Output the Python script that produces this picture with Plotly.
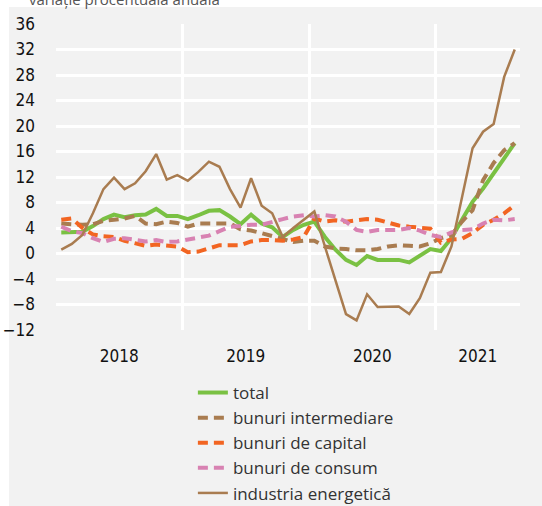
"""
Variatie procentuala anuala - productie industriala pe grupe
"""

import plotly.graph_objs as go

years = ['2018', '2019', '2020', '2021']
months_per_year = [12, 12, 12, 8]

total = [3.3, 3.3, 3.4, 4.3, 5.4, 6.1, 5.7, 6.0, 6.1, 7.0, 5.9, 5.9,
         5.4, 6.0, 6.7, 6.8, 5.8, 4.6, 6.1, 4.7, 4.1, 2.6, 3.7, 4.5,
         5.0, 2.6, 0.6, -1.0, -1.8, -0.4, -1.0, -1.0, -1.0, -1.4, -0.4, 0.7,
         0.4, 2.4, 5.3, 8.1, 10.2, 12.5, 14.9, 17.3]

intermediare = [4.7, 4.6, 4.5, 4.6, 5.1, 5.3, 5.5, 5.9, 4.7, 4.6, 5.0, 4.8,
                4.2, 4.7, 4.7, 4.8, 4.7, 3.8, 3.6, 3.2, 2.7, 2.3, 1.8, 2.0,
                2.0, 1.1, 0.8, 0.7, 0.5, 0.5, 0.7, 1.1, 1.3, 1.2, 1.1, 1.6,
                2.4, 2.9, 5.0, 6.8, 11.5, 14.2, 16.2, 17.3]

capital = [5.3, 5.5, 4.0, 3.0, 2.7, 2.6, 2.0, 1.6, 1.2, 1.4, 1.2, 1.1,
           0.2, 0.3, 0.8, 1.3, 1.3, 1.3, 1.9, 2.1, 2.1, 2.0, 2.2, 2.6,
           5.5, 5.0, 5.2, 5.0, 5.2, 5.4, 5.3, 4.8, 4.4, 4.2, 4.0, 3.9,
           1.7, 2.2, 2.3, 3.2, 4.5, 5.3, 6.3, 7.6]

consum = [4.2, 3.5, 3.2, 2.4, 1.8, 2.3, 2.4, 2.1, 1.9, 2.1, 1.8, 1.9,
          2.2, 2.6, 2.8, 3.5, 4.2, 4.3, 4.5, 4.5, 5.0, 5.4, 5.8, 6.0,
          5.8, 6.0, 5.8, 5.0, 3.7, 3.4, 3.7, 3.7, 3.7, 4.0, 3.6, 2.9,
          2.6, 3.3, 3.7, 3.8, 4.7, 5.3, 5.2, 5.4]

energetica = [0.6, 1.5, 2.9, 6.3, 10.1, 11.9, 10.1, 11.0, 12.9, 15.6, 11.6, 12.3,
              11.4, 12.8, 14.4, 13.6, 10.1, 7.2, 11.8, 7.5, 6.3, 2.6, 4.0, 5.3,
              6.6, 1.1, -4.2, -9.5, -10.5, -6.4, -8.4, -8.3, -8.3, -9.5, -7.0, -3.0,
              -2.9, 1.1, 9.0, 16.5, 19.1, 20.3, 27.7, 32.0]

y_ticks = list(range(-12, 37, 4))

# month index on x, year groups like a category axis
x = list(range(sum(months_per_year)))
bounds = []
centers = []
start = 0
for n in months_per_year:
    centers.append(start + (n - 1) / 2)
    start += n
    bounds.append(start - 0.5)
bounds = bounds[:-1]

BG = '#f2f2f2'

trace1 = go.Scatter(x=x, y=total, name='total', mode='lines',
                    line=dict(color='#7ac143', width=4))
trace2 = go.Scatter(x=x, y=intermediare, name='bunuri intermediare', mode='lines',
                    line=dict(color='#a97c50', width=4, dash='10px,6px'))
trace3 = go.Scatter(x=x, y=capital, name='bunuri de capital', mode='lines',
                    line=dict(color='#f26522', width=4, dash='10px,6px'))
trace4 = go.Scatter(x=x, y=consum, name='bunuri de consum', mode='lines',
                    line=dict(color='#d882b2', width=4, dash='10px,6px'))
trace5 = go.Scatter(x=x, y=energetica, name='industria energetică', mode='lines',
                    line=dict(color='#a97c50', width=2.5))

data = [trace1, trace2, trace3, trace4, trace5]

tick_font = dict(family='DejaVu Sans Condensed, Liberation Sans Narrow, sans-serif',
                 size=17, color='#111111')

layout = go.Layout(
    width=542, height=506,
    margin=dict(l=56, r=22, t=24, b=176, autoexpand=False),
    paper_bgcolor='white',
    plot_bgcolor=BG,
    showlegend=True,
    xaxis=dict(
        range=[-0.5, len(x) - 0.5],
        tickvals=centers, ticktext=years,
        showgrid=False, zeroline=False, showline=False, ticks='',
        ticklabelstandoff=14, automargin=False,
        tickfont=tick_font,
        minor=dict(tickvals=bounds, showgrid=True, gridcolor='white', gridwidth=2.5),
    ),
    yaxis=dict(
        range=[-12, 36],
        tickvals=y_ticks,
        showgrid=True, gridcolor='white', gridwidth=2.5,
        zeroline=False, showline=False, ticks='',
        ticklabelstandoff=20, automargin=False,
        tickfont=tick_font,
    ),
    legend=dict(
        x=0.295, y=-0.147, xanchor='left', yanchor='top',
        bgcolor='rgba(0,0,0,0)',
        font=dict(family='Open Sans, sans-serif', size=17, color='#333333'),
        tracegroupgap=0,
    ),
    shapes=[dict(type='rect', xref='paper', yref='paper', layer='below',
                 x0=(9 - 56) / 464, x1=(542 - 56) / 464,
                 y0=(330 - 506) / 306, y1=(330 - 7) / 306,
                 fillcolor=BG, line=dict(width=0))],
    annotations=[dict(text='variație procentuală anuală', xref='paper', yref='paper',
                      x=(27 - 56) / 464, y=(330 + 1) / 306, xanchor='left', yanchor='middle',
                      showarrow=False,
                      font=dict(family='Open Sans, sans-serif', size=15, color='#555555'))],
)

fig = go.Figure(data=data, layout=layout)
# drop the default page margin so the figure sits at the window corner
fig.write_html('out.html', config={'displayModeBar': False},
               post_script="document.body.style.margin='0';")
